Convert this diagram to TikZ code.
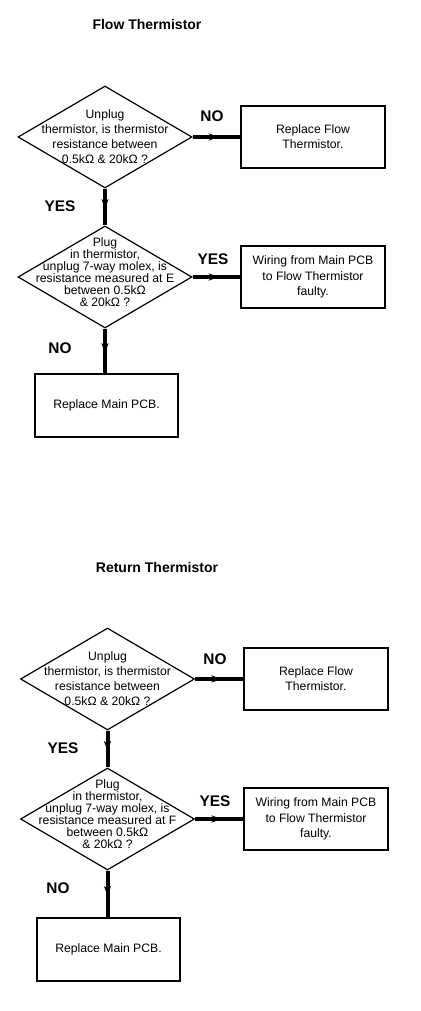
\documentclass[tikz,border=0pt]{standalone}
\usepackage{fontspec}
\setmainfont{Liberation Sans}
\usetikzlibrary{arrows.meta}
\usetikzlibrary{shapes.geometric}
\usetikzlibrary{decorations.markings}

\begin{document}
\begin{tikzpicture}[x = 0.5pt, y = -0.5pt]
	\tikzstyle{titleStyle} = [font = \fontsize{7}{8}\selectfont\bfseries]
	\tikzstyle{answerStyle} = [font = \fontsize{7.7}{9}\selectfont\bfseries]
	\tikzstyle{questionStyle} = [shape = diamond, draw, line width = 0.6pt, minimum width = 87pt, minimum height = 51pt, inner sep = 0pt]
	\tikzstyle{questionText} = [align = center, inner sep = 0pt, font = \fontsize{6.1}{7.5}\selectfont]
	\tikzstyle{longText} = [align = center, inner sep = 0pt, font = \fontsize{6.1}{6}\selectfont]
	\tikzstyle{actionStyle} = [shape = rectangle, draw, line width = 1pt, minimum width = 72pt, minimum height = 31pt, align = center, font = \fontsize{6.1}{7.6}\selectfont]
	\tikzstyle{edgeStyle} = [line width = 2pt, postaction = {decorate}, decoration = {markings, mark = at position 0.55 with {\arrow{Stealth[length = 5pt, width = 3.6pt]}}}]
	\useasboundingbox (0,0) rectangle (420,1011);
	% flow thermistor
	\node[titleStyle] (t0) at (147,24) {Flow Thermistor};
	\node[questionStyle] (q0) at (105,137) {};
	\node[questionText] (q0t) at (105,137) {Unplug\\thermistor, is thermistor\\resistance between\\0.5kΩ \& 20kΩ ?};
	\node[actionStyle] (a0) at (313,137) {Replace Flow\\Thermistor.};
	\node[questionStyle] (q1) at (105,277) {};
	\node[longText] (q1t) at (105,272) {Plug\\in thermistor,\\unplug 7-way molex, is\\resistance measured at E\\between 0.5kΩ\\\& 20kΩ ?};
	\node[actionStyle] (a1) at (313,277) {Wiring from Main PCB\\to Flow Thermistor\\faulty.};
	\node[actionStyle, minimum width = 71.5pt, minimum height = 31.5pt] (a2) at (106.5,405.5) {Replace Main PCB.};
	\node[answerStyle] (n0) at (212,116) {NO};
	\node[answerStyle] (y0) at (60,206) {YES};
	\node[answerStyle] (y1) at (213,259) {YES};
	\node[answerStyle] (n1) at (60,348) {NO};
	\draw[edgeStyle] (q0.east) -- (a0.west);
	\draw[edgeStyle] (q0.south) -- (q1.north);
	\draw[edgeStyle] (q1.east) -- (a1.west);
	\draw[edgeStyle] (q1.south) -- (q1.south |- a2.north);
	% return thermistor
	\node[titleStyle] (t1) at (157,567) {Return Thermistor};
	\node[questionStyle] (q2) at (107.5,679) {};
	\node[questionText] (q2t) at (107.5,679) {Unplug\\thermistor, is thermistor\\resistance between\\0.5kΩ \& 20kΩ ?};
	\node[actionStyle] (a3) at (316,679) {Replace Flow\\Thermistor.};
	\node[questionStyle] (q3) at (107.5,819) {};
	\node[longText] (q3t) at (107.5,814) {Plug\\in thermistor,\\unplug 7-way molex, is\\resistance measured at F\\between 0.5kΩ\\\& 20kΩ ?};
	\node[actionStyle] (a4) at (316,819) {Wiring from Main PCB\\to Flow Thermistor\\faulty.};
	\node[actionStyle, minimum width = 71.5pt, minimum height = 31.5pt] (a5) at (108.5,949) {Replace Main PCB.};
	\node[answerStyle] (n2) at (215,659) {NO};
	\node[answerStyle] (y2) at (63,748) {YES};
	\node[answerStyle] (y3) at (215,801) {YES};
	\node[answerStyle] (n3) at (58,888) {NO};
	\draw[edgeStyle] (q2.east) -- (a3.west);
	\draw[edgeStyle] (q2.south) -- (q3.north);
	\draw[edgeStyle] (q3.east) -- (a4.west);
	\draw[edgeStyle] (q3.south) -- (q3.south |- a5.north);
\end{tikzpicture}
\end{document}
